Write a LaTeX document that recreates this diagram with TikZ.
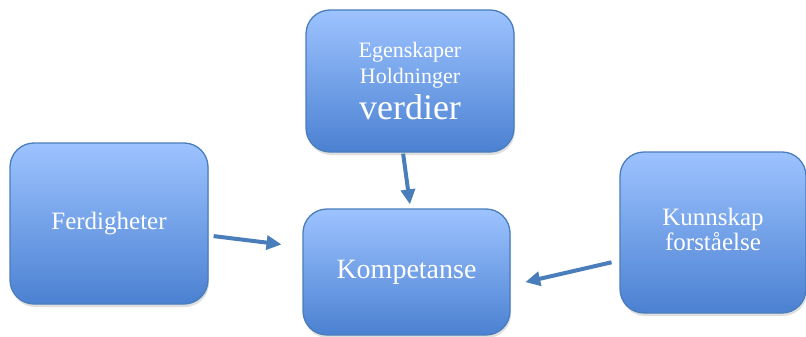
\documentclass[tikz,border=0pt]{standalone}
\usepackage{fontspec}
\setmainfont{Liberation Serif}
\usetikzlibrary{arrows.meta,shadows}

\definecolor{boxtop}{HTML}{9DC3FF}
\definecolor{boxbottom}{HTML}{4B81D2}
\definecolor{boxline}{HTML}{4A7EBB}
\definecolor{arrowblue}{HTML}{4A7EBB}

\tikzset{
    pillar/.style={draw=boxline, line width=1.3pt, rounded corners=24pt,
        top color=boxtop, bottom color=boxbottom, text=white, align=center,
        drop shadow={shadow xshift=1pt, shadow yshift=-3pt, opacity=0.25},
        font=\fontsize{25}{28}\selectfont},
    flow/.style={draw=arrowblue, line width=4pt,
        -{Triangle[length=15pt, width=14pt]}}
}

\begin{document}
\begin{tikzpicture}[x=1pt, y=1pt]
        % fix the page size to the reference
        \useasboundingbox (0,0) rectangle (806,-337);
        % box on top: values and attitudes
        \node[pillar, minimum width=208pt, minimum height=142pt] (verdier) at (410,-81)
            {\fontsize{22}{24}\selectfont Egenskaper\\[-2pt]
             \fontsize{22}{24}\selectfont Holdninger\\[6pt]
             \fontsize{36}{38}\selectfont verdier};
        % box on the left: skills
        \node[pillar, minimum width=198pt, minimum height=161pt] (ferdig) at (109,-223.5)
            {Ferdigheter};
        % box in the middle: competence
        \node[pillar, minimum width=207pt, minimum height=126pt,
            font=\fontsize{28}{30}\selectfont] (kompetanse) at (406.5,-272)
            {Kompetanse};
        % box on the right: knowledge
        \node[pillar, minimum width=186pt, minimum height=161pt] (kunnskap) at (713,-232.5)
            {\raisebox{-6pt}{\begin{tabular}{@{}c@{}}Kunnskap\\[-3pt]forståelse\end{tabular}}};
        % arrow from the top box down to the middle
        \draw[flow, shorten <=1pt, shorten >=4pt]
            ([xshift=-7pt]verdier.south) -- ([xshift=4pt]kompetanse.north);
        % arrow from the left box to the middle
        \draw[flow, shorten <=5pt, shorten >=21pt]
            ([yshift=-12pt]ferdig.east) -- ([yshift=25pt]kompetanse.west);
        % arrow from the right box to the middle
        \draw[flow, shorten <=8pt, shorten >=15pt]
            ([yshift=-28pt]kunnskap.west) -- ([yshift=-13.5pt]kompetanse.east);
    \end{tikzpicture}
\end{document}
